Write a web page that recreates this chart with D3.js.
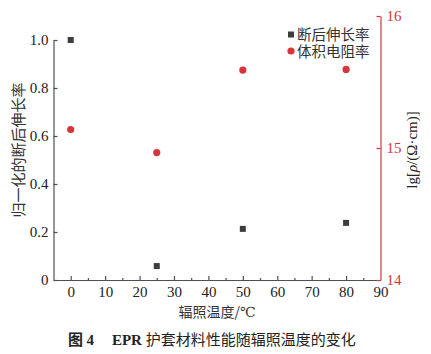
<!DOCTYPE html>
<html>
<head>
<meta charset="utf-8">
<script src="https://cdn.jsdelivr.net/npm/d3@7"></script>
<style>
  body { margin: 0; background: #fff; }
  svg { display: block; }
  .serif { font-family: "Liberation Serif", "DejaVu Serif", serif; }
  .cjk { font-family: "Noto Sans CJK SC", sans-serif; }
</style>
</head>
<body>
<svg id="chart"></svg>
<script>
// data
const temps = [0, 25, 50, 80];
const elongation = [1.0, 0.058, 0.213, 0.238];     // normalized elongation at break
const resistivity = [15.14, 14.965, 15.59, 15.595]; // lg volume resistivity
const xTicks = [0, 10, 20, 30, 40, 50, 60, 70, 80, 90];
const xMinorTicks = [5, 15, 25, 35, 45, 55, 65, 75, 85];
const yLeftTicks = [0, 0.2, 0.4, 0.6, 0.8, 1.0];
const yRightTicks = [14, 15, 16];
const legendLabels = ['断后伸长率', '体积电阻率'];

const W = 431, H = 354;
const grey = '#505050', red = '#d8343c', markGrey = '#3d3d3d';

const svg = d3.select('#chart')
    .attr('width', W)
    .attr('height', H);

const xScale = d3.scaleLinear().domain([-5, 90]).range([53.5, 380.5]);
const yLeft = d3.scaleLinear().domain([0, 1]).range([280, 40]);
const yRight = d3.scaleLinear().domain([14, 16]).range([280, 16]);

// bottom axis
const xAxisG = svg.append('g')
    .attr('class', 'serif')
    .attr('transform', 'translate(0,280)')
    .call(d3.axisBottom(xScale)
        .tickValues(xTicks)
        .tickSize(-4)
        .tickSizeOuter(0)
        .tickPadding(6));
xAxisG.selectAll('.tick')
    .filter(d => d === 90)
    .select('line').remove();

svg.append('g')
    .attr('transform', 'translate(0,280)')
    .call(d3.axisBottom(xScale)
        .tickValues(xMinorTicks)
        .tickSize(-2)
        .tickSizeOuter(0)
        .tickFormat(''))
    .select('.domain').remove();

// left axis
const yLeftG = svg.append('g')
    .attr('class', 'serif')
    .attr('transform', `translate(${xScale(-5)},0)`)
    .call(d3.axisLeft(yLeft)
        .tickValues(yLeftTicks)
        .tickSize(-4)
        .tickSizeOuter(0)
        .tickPadding(5)
        .tickFormat(d => d === 0 ? '0' : d3.format('.1f')(d)));

svg.selectAll('g').selectAll('.domain, line')
    .attr('stroke', grey)
    .attr('stroke-width', 1.2);

[xAxisG, yLeftG].forEach(g => g.selectAll('text')
    .style('font-size', '15px')
    .attr('fill', '#222'));

// right axis
const yRightG = svg.append('g')
    .attr('class', 'serif')
    .attr('transform', `translate(${xScale(90)},0)`)
    .call(d3.axisRight(yRight)
        .tickValues(yRightTicks)
        .tickSize(-4)
        .tickSizeOuter(0)
        .tickPadding(6)
        .tickFormat(d => d));
yRightG.select('.domain').attr('stroke', red).attr('stroke-width', 1.2);
yRightG.selectAll('line').attr('stroke', red).attr('stroke-width', 1.2);
yRightG.selectAll('text')
    .style('font-size', '15px')
    .attr('fill', red);

// marks
svg.append('g')
    .selectAll('rect')
    .data(temps.map((t, i) => ({t, v: elongation[i]})))
    .join('rect')
    .attr('x', d => xScale(d.t) - 3)
    .attr('y', d => yLeft(d.v) - 3)
    .attr('width', 6)
    .attr('height', 6)
    .attr('fill', markGrey);

svg.append('g')
    .selectAll('circle')
    .data(temps.map((t, i) => ({t, v: resistivity[i]})))
    .join('circle')
    .attr('cx', d => xScale(d.t))
    .attr('cy', d => yRight(d.v))
    .attr('r', 3.6)
    .attr('fill', red);

// legend (one text block, one line per entry)
const legend = svg.append('g').attr('transform', 'translate(291,0)');
legend.append('rect')
    .attr('x', -3).attr('y', 31.5)
    .attr('width', 6).attr('height', 6)
    .attr('fill', markGrey);
legend.append('circle')
    .attr('cx', 0).attr('cy', 51)
    .attr('r', 3.6)
    .attr('fill', red);
legend.append('text')
    .attr('class', 'cjk')
    .attr('y', 40)
    .style('font-size', '14.5px')
    .attr('fill', '#333')
    .selectAll('tspan')
    .data(legendLabels)
    .join('tspan')
    .attr('x', 6)
    .attr('dy', (d, i) => i === 0 ? 0 : 16.5)
    .text(d => d);

// axis titles
svg.append('text')
    .attr('class', 'cjk')
    .attr('transform', 'translate(24,150) rotate(-90)')
    .attr('text-anchor', 'middle')
    .style('font-size', '15px')
    .attr('fill', '#333')
    .text('归一化的断后伸长率');

const rt = svg.append('text')
    .attr('class', 'serif')
    .attr('transform', 'translate(417,150) rotate(-90)')
    .attr('text-anchor', 'middle')
    .style('font-size', '15px')
    .attr('fill', '#222');
rt.append('tspan').text('lg[');
rt.append('tspan').style('font-style', 'italic').text('ρ');
rt.append('tspan').text('/(Ω·cm)]');

const xt = svg.append('text')
    .attr('x', 217).attr('y', 316.5)
    .attr('text-anchor', 'middle')
    .style('font-size', '14px')
    .attr('fill', '#333');
xt.append('tspan').attr('class', 'cjk').text('辐照温度/');
xt.append('tspan').attr('class', 'serif').text('℃');

// caption
const cap = svg.append('text')
    .attr('x', 68).attr('y', 345)
    .style('font-size', '15px')
    .attr('fill', '#222');
cap.append('tspan').attr('class', 'cjk').style('font-weight', 'bold').text('图 ');
cap.append('tspan').attr('class', 'serif').style('font-weight', 'bold').text('4');
cap.append('tspan').attr('class', 'serif').style('font-weight', 'bold').attr('dx', 18).text('EPR ');
cap.append('tspan').attr('class', 'cjk').text('护套材料性能随辐照温度的变化');
</script>
</body>
</html>
